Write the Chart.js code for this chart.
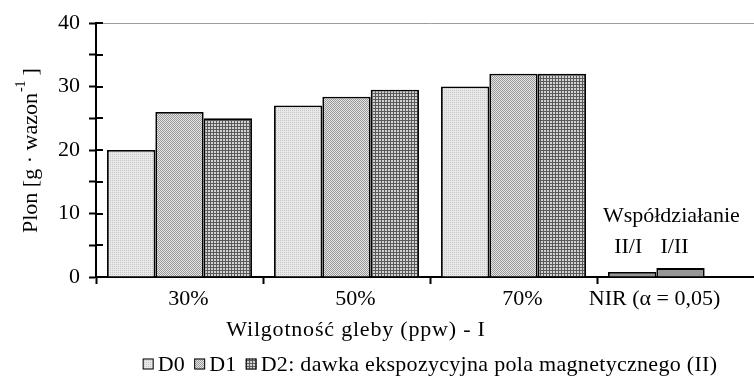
<!DOCTYPE html>
<html>
<head>
<meta charset="utf-8">
<script src="https://cdn.jsdelivr.net/npm/chart.js@4.4.1/dist/chart.umd.min.js"></script>
<style>
  html, body { margin: 0; padding: 0; background: #fff; overflow: hidden; }
  #wrap { width: 770px; height: 390px; }
</style>
</head>
<body>
<div id="wrap"><canvas id="c" width="770" height="390"></canvas></div>
<script>
// ---- data ----
const categories = ['30%', '50%', '70%', 'NIR (\u03B1 = 0,05)'];
const d0Values = [20, 27, 30, 0.8];
const d1Values = [26, 28.4, 32, 1.4];
const d2Values = [25, 29.5, 32, null];
const seriesLabels = ['D0', 'D1', 'D2: dawka ekspozycyjna pola magnetycznego (II)'];
const nirTitle = 'Wsp\u00F3\u0142dzia\u0142anie';
const nirLabels = ['II/I', 'I/II'];
const yTickLabels = [0, 10, 20, 30, 40];
const yTitleMain = 'Plon [g \u00B7 wazon';
const yTitleSup = '-1';
const yTitleEnd = ']';
const xTitle = 'Wilgotno\u015B\u0107 gleby (ppw) - I';

// ---- patterns ----
function makePattern(size, painter) {
  const c = document.createElement('canvas');
  c.width = size; c.height = size;
  const g = c.getContext('2d');
  painter(g);
  return document.getElementById('c').getContext('2d').createPattern(c, 'repeat');
}
const patD0 = makePattern(2, g => {
  g.fillStyle = '#e8e8e8'; g.fillRect(0, 0, 2, 2);
  g.fillStyle = '#c6c6c6'; g.fillRect(0, 0, 1, 1);
});
const patD1 = makePattern(2, g => {
  g.fillStyle = '#e4e4e4'; g.fillRect(0, 0, 2, 2);
  g.fillStyle = '#9a9a9a'; g.fillRect(0, 0, 1, 1); g.fillRect(1, 1, 1, 1);
});
const patD2 = makePattern(3, g => {
  g.fillStyle = '#d2d2d2'; g.fillRect(0, 0, 3, 3);
  g.fillStyle = '#5a5a5a'; g.fillRect(0, 0, 3, 1); g.fillRect(0, 0, 1, 3);
});
const nirColor = '#969696';
const lastIdx = categories.length - 1;
const colorsFor = (pat) => categories.map((_, i) => i === lastIdx ? nirColor : pat);

const FONT = '"Liberation Serif", "Times New Roman", serif';

const overlay = {
  id: 'overlay',
  afterDraw(chart) {
    const ctx = chart.ctx;
    const ca = chart.chartArea;
    const xs = chart.scales.x, ys = chart.scales.y;
    ctx.save();
    // inner halves of y ticks
    ctx.strokeStyle = '#000'; ctx.lineWidth = 2;
    ys.ticks.forEach(t => {
      const y = Math.round(ys.getPixelForValue(t.value));
      ctx.beginPath(); ctx.moveTo(ca.left, y); ctx.lineTo(ca.left + 7, y); ctx.stroke();
    });
    ctx.fillStyle = '#000';
    ctx.font = '22px ' + FONT;
    ctx.textBaseline = 'middle';
    ctx.textAlign = 'center';
    // x category labels
    categories.forEach((lab, i) => {
      const off = i === lastIdx ? -26 : 9;
      ctx.fillText(lab, xs.getPixelForValue(i) + off, ca.bottom + 22);
    });
    // x title
    ctx.letterSpacing = '0.8px';
    ctx.fillText(xTitle, ca.left + 260, ca.bottom + 53);
    ctx.letterSpacing = '0px';
    // NIR annotations
    const m0 = chart.getDatasetMeta(0).data[lastIdx];
    const m1 = chart.getDatasetMeta(1).data[lastIdx];
    ctx.fillText(nirLabels[0], m0.x - 4, ca.bottom - 30);
    ctx.fillText(nirLabels[1], m1.x - 6, ca.bottom - 30);
    ctx.fillText(nirTitle, (m0.x + m1.x) / 2 + 15, ca.bottom - 61);
    // y title rotated
    ctx.save();
    ctx.translate(37, 233);
    ctx.rotate(-Math.PI / 2);
    ctx.textAlign = 'left'; ctx.textBaseline = 'alphabetic';
    ctx.font = '22px ' + FONT;
    ctx.fillText(yTitleMain, 0, 0);
    let w = ctx.measureText(yTitleMain).width;
    ctx.font = '14px ' + FONT;
    ctx.fillText(yTitleSup, w + 1, -12);
    w += ctx.measureText(yTitleSup).width + 6;
    ctx.font = '22px ' + FONT;
    ctx.fillText(yTitleEnd, w, 0);
    ctx.restore();
    // legend
    ctx.font = '22px ' + FONT;
    ctx.letterSpacing = '0.3px';
    ctx.textAlign = 'left'; ctx.textBaseline = 'middle';
    const box = 11, gapBT = 4, gapItems = 9;
    const pats = [patD0, patD1, patD2];
    let total = 0;
    seriesLabels.forEach((l, i) => { total += box + gapBT + ctx.measureText(l).width + (i < seriesLabels.length - 1 ? gapItems : 0); });
    let lx = (ca.left + ca.right) / 2 - total / 2;
    const ly = 364;
    seriesLabels.forEach((l, i) => {
      ctx.fillStyle = pats[i];
      ctx.fillRect(lx, ly - box / 2, box, box);
      ctx.strokeStyle = '#000'; ctx.lineWidth = 1;
      ctx.strokeRect(lx + 0.5, ly - box / 2 + 0.5, box - 1, box - 1);
      ctx.fillStyle = '#000';
      ctx.fillText(l, lx + box + gapBT, ly + 1);
      lx += box + gapBT + ctx.measureText(l).width + gapItems;
    });
    ctx.restore();
  }
};

new Chart(document.getElementById('c'), {
  type: 'bar',
  data: {
    labels: categories,
    datasets: [
      { label: seriesLabels[0], data: d0Values, backgroundColor: colorsFor(patD0) },
      { label: seriesLabels[1], data: d1Values, backgroundColor: colorsFor(patD1) },
      { label: seriesLabels[2], data: d2Values, backgroundColor: colorsFor(patD2) }
    ]
  },
  options: {
    responsive: false,
    animation: false,
    devicePixelRatio: 1,
    layout: { padding: { left: 0, right: 6, top: 23, bottom: 0 } },
    datasets: {
      bar: { borderColor: '#000', borderWidth: 1.8, barPercentage: 1, categoryPercentage: 0.868 }
    },
    plugins: { legend: { display: false }, tooltip: { enabled: false }, title: { display: false } },
    scales: {
      x: {
        grid: { drawOnChartArea: false, tickLength: 7, tickColor: '#000', tickWidth: 2, offset: true },
        border: { color: '#000', width: 2 },
        ticks: { display: false },
        afterFit: s => { s.height = 113; }
      },
      y: {
        min: 0, max: 40,
        grid: {
          tickLength: 7, tickColor: '#000', tickWidth: 2, lineWidth: 1,
          color: c => (c.tick && c.tick.value === 40) ? '#9c9c9c' : 'rgba(0,0,0,0)'
        },
        border: { color: '#000', width: 2 },
        ticks: {
          stepSize: 5, padding: 9, color: '#000',
          font: { family: FONT, size: 22 },
          callback: v => yTickLabels.includes(v) ? String(v) : ''
        },
        afterFit: s => { s.width = 96; }
      }
    }
  },
  plugins: [overlay]
});
</script>
</body>
</html>
